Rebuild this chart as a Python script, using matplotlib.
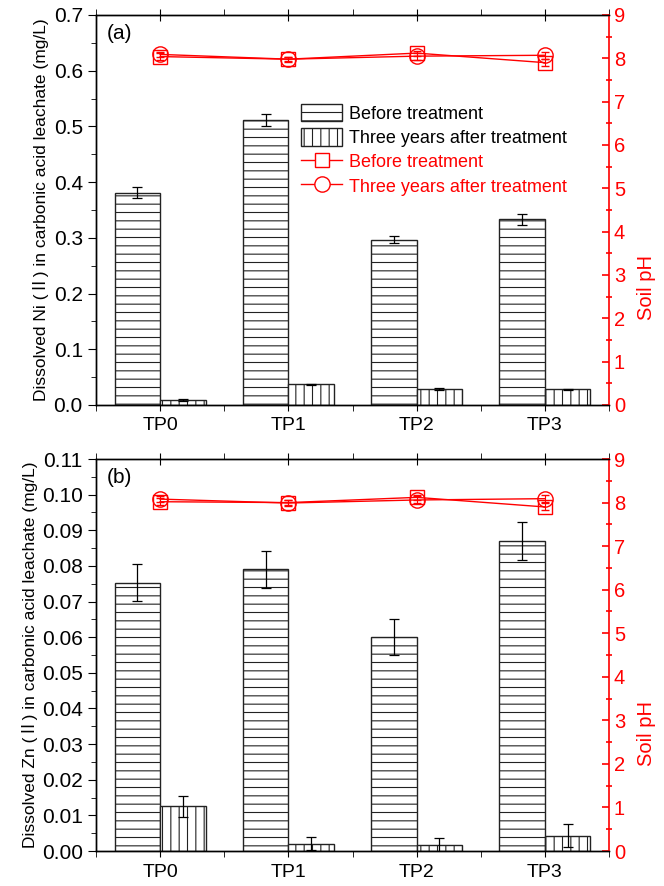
"""
Leachate metal concentration (bars) and soil pH (lines) for the four treatment plots.
"""

import matplotlib
matplotlib.use("Agg")
import matplotlib.pyplot as plt
import matplotlib.patches as mpatches
from matplotlib.lines import Line2D
from matplotlib.ticker import MultipleLocator, FormatStrFormatter
import numpy as np

plt.rcParams.update({
    'font.family': ['Liberation Sans', 'Noto Sans CJK SC', 'DejaVu Sans'],
    'font.size': 13,
    'hatch.linewidth': 0.8,
    'axes.linewidth': 1.0,
})

# ---- data ----
plots = ['TP0', 'TP1', 'TP2', 'TP3']

ni_before = [0.381, 0.511, 0.297, 0.333]
ni_before_err = [0.010, 0.011, 0.006, 0.010]
ni_after = [0.009, 0.037, 0.029, 0.028]
ni_after_err = [0.001, 0.001, 0.002, 0.001]
ph_a_before = [8.04, 7.98, 8.12, 7.90]
ph_a_before_err = [0.08, 0.05, 0.06, 0.08]
ph_a_after = [8.09, 7.98, 8.05, 8.07]
ph_a_after_err = [0.06, 0.06, 0.08, 0.08]

zn_before = [0.0753, 0.0790, 0.0600, 0.0870]
zn_before_err = [0.0052, 0.0053, 0.0050, 0.0053]
zn_after = [0.0125, 0.0020, 0.0016, 0.0043]
zn_after_err = [0.0030, 0.0018, 0.0020, 0.0032]
ph_b_before = [8.02, 8.00, 8.12, 7.90]
ph_b_before_err = [0.08, 0.06, 0.06, 0.08]
ph_b_after = [8.08, 7.99, 8.06, 8.09]
ph_b_after_err = [0.06, 0.06, 0.08, 0.08]

RED = '#ff0000'
BAR_W = 0.355


def draw_panel(ax, before, before_err, after, after_err, ph_before, ph_before_err,
               ph_after, ph_after_err, ymax, ystep, yfmt, ylabel, tag):
    x = np.arange(len(plots))
    ax.bar(x, before, width=-BAR_W, align='edge', color='white', edgecolor='#222222',
           hatch='--', linewidth=1.0, zorder=2)
    ax.bar(x, after, width=BAR_W, align='edge', color='white', edgecolor='#222222',
           hatch='||', linewidth=1.0, zorder=2)
    ax.errorbar(x - BAR_W / 2, before, yerr=before_err, fmt='none', ecolor='black',
                elinewidth=0.9, capsize=3.5, capthick=0.9, zorder=3)
    ax.errorbar(x + BAR_W / 2, after, yerr=after_err, fmt='none', ecolor='black',
                elinewidth=0.9, capsize=3.5, capthick=0.9, zorder=3)

    ax.set_xlim(-0.5, len(plots) - 0.5)
    ax.set_ylim(0, ymax)
    ax.set_xticks(x)
    ax.set_xticklabels(plots, fontsize=14)
    ax.set_xticks(np.arange(-0.5, len(plots), 1.0), minor=True)
    ax.yaxis.set_major_locator(MultipleLocator(ystep))
    ax.yaxis.set_minor_locator(MultipleLocator(ystep / 2))
    ax.yaxis.set_major_formatter(FormatStrFormatter(yfmt))
    ax.tick_params(axis='y', which='major', direction='out', length=6, labelsize=15)
    ax.tick_params(axis='y', which='minor', direction='out', length=3.5)
    ax.tick_params(axis='x', which='major', direction='inout', length=8, top=True,
                   labelsize=14, pad=5)
    ax.tick_params(axis='x', which='minor', direction='out', length=4, top=True)
    ax.set_ylabel(ylabel, fontsize=12.5, labelpad=3)
    ax.text(0.02, 0.978, tag, transform=ax.transAxes, fontsize=15, va='top', ha='left')
    ax.spines['right'].set_visible(False)

    ax2 = ax.twinx()
    ax2.set_ylim(0, 9)
    ax2.yaxis.set_major_locator(MultipleLocator(1))
    ax2.yaxis.set_minor_locator(MultipleLocator(0.5))
    ax2.spines['right'].set_color(RED)
    ax2.spines['right'].set_linewidth(1.2)
    ax2.tick_params(axis='y', which='major', direction='in', length=5, colors=RED,
                    labelsize=14.5, width=1.2)
    ax2.tick_params(axis='y', which='minor', direction='inout', length=4, colors=RED,
                    width=1.2)
    ax2.set_ylabel('Soil pH', color=RED, fontsize=14.5)
    ax2.yaxis.set_label_coords(1.054, 0.3)

    ax2.errorbar(x, ph_before, yerr=ph_before_err, color=RED, marker='s', ms=10,
                 mfc='none', mec=RED, mew=1.0, lw=1.0, capsize=3, elinewidth=0.8)
    ax2.errorbar(x, ph_after, yerr=ph_after_err, color=RED, marker='o', ms=11,
                 mfc='none', mec=RED, mew=1.0, lw=1.0, capsize=3, elinewidth=0.8)
    return ax2


fig = plt.figure(figsize=(6.64, 8.86), dpi=100)
ax_a = fig.add_axes([0.1446, 0.5429, 0.7726, 0.4402])
ax_b = fig.add_axes([0.1446, 0.0395, 0.7726, 0.4424])

draw_panel(ax_a, ni_before, ni_before_err, ni_after, ni_after_err,
           ph_a_before, ph_a_before_err, ph_a_after, ph_a_after_err,
           0.7, 0.1, '%.1f',
           'Dissolved Ni (Ⅱ) in carbonic acid leachate (mg/L)', '(a)')
draw_panel(ax_b, zn_before, zn_before_err, zn_after, zn_after_err,
           ph_b_before, ph_b_before_err, ph_b_after, ph_b_after_err,
           0.11, 0.01, '%.2f',
           'Dissolved Zn (Ⅱ) in carbonic acid leachate (mg/L)', '(b)')

# legend in panel (a)
handles = [
    mpatches.Patch(facecolor='white', edgecolor='#222222', hatch='--', label='Before treatment'),
    mpatches.Patch(facecolor='white', edgecolor='#222222', hatch='||',
                   label='Three years after treatment'),
    Line2D([], [], color=RED, marker='s', ms=10, mfc='white', lw=1.0, label='Before treatment'),
    Line2D([], [], color=RED, marker='o', ms=11, mfc='white', lw=1.0,
           label='Three years after treatment'),
]
leg = ax_a.legend(handles=handles, loc='upper left', bbox_to_anchor=(0.385, 0.79),
                  frameon=False, fontsize=13, handlelength=2.3, handleheight=1.1,
                  handletextpad=0.35, labelspacing=0.3, borderaxespad=0)
for txt in leg.get_texts()[2:]:
    txt.set_color(RED)

plt.savefig('out.png', dpi=100)
plt.close()
